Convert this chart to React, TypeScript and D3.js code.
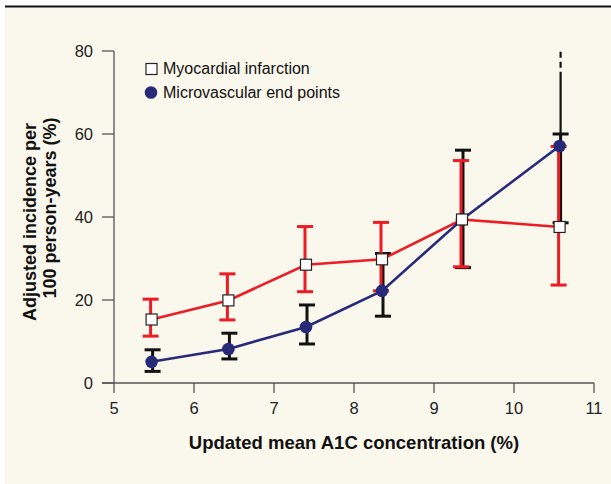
import React from "react";
import * as d3 from "d3";

const xTicks = [5, 6, 7, 8, 9, 10, 11];
const yTicks = [0, 20, 40, 60, 80];

const a1c = [5.47, 6.43, 7.4, 8.35, 9.35, 10.57];

const miValue = [15.3, 19.9, 28.5, 29.8, 39.4, 37.6];
const miLower = [11.3, 15.2, 22.0, 22.2, 28.0, 23.6];
const miUpper = [20.2, 26.3, 37.7, 38.7, 53.6, 57.0];

const mvValue = [5.1, 8.2, 13.5, 22.2, 39.4, 57.1];
const mvLower = [2.8, 5.8, 9.4, 16.1, 27.8, 38.6];
const mvUpper = [8.0, 12.0, 18.8, 31.2, 56.1, 60.0];
// upper whisker continuing off the scale for the last point (solid to 75, dashed to 80)
const mvBeyondSolid = [null, null, null, null, null, 75];
const mvBeyondDash = [null, null, null, null, null, 80];

const seriesNames = ["Myocardial infarction", "Microvascular end points"];
const xTitle = "Updated mean A1C concentration (%)";
const yTitle = ["Adjusted incidence per", "100 person-years (%)"];

const RED = "#ec1c24";
const NAVY = "#262a78";
const BLACK = "#111111";
const AXIS = "#555555";
const BG = "#faf7ec";
const FONT = "Liberation Sans, Arial, Helvetica, sans-serif";

export default function App() {
  const x = d3.scaleLinear().domain([5, 11]).range([114, 594]);
  const y = d3.scaleLinear().domain([0, 80]).range([383, 51]);
  const capW = 8;

  const miLine = d3
    .line<number>()
    .x((_, i) => x(a1c[i]))
    .y((d) => y(d));
  const mvLine = d3
    .line<number>()
    .x((_, i) => x(a1c[i]))
    .y((d) => y(d));

  const errBar = (xi: number, lo: number, hi: number, color: string, key: string) => (
    <g key={key} stroke={color} strokeWidth={3} fill="none">
      <line x1={xi} x2={xi} y1={y(lo)} y2={y(hi)} />
      <line x1={xi - capW} x2={xi + capW} y1={y(lo)} y2={y(lo)} />
      <line x1={xi - capW} x2={xi + capW} y1={y(hi)} y2={y(hi)} />
    </g>
  );

  return (
    <svg
      width={611}
      height={484}
      style={{ position: "absolute", left: 0, top: 0 }}
      fontFamily={FONT}
    >
      <rect x={5} y={6} width={606} height={478} fill={BG} />
      <line x1={5} x2={611} y1={6.5} y2={6.5} stroke="#111" strokeWidth={1.8} />

      {/* axes */}
      <g stroke={AXIS} strokeWidth={1.3}>
        <line x1={x(5)} x2={x(5)} y1={y(80)} y2={y(0)} />
        <line x1={102} x2={x(11)} y1={y(0)} y2={y(0)} />
        {yTicks.map((t) => (
          <line key={"yt" + t} x1={102} x2={x(5)} y1={y(t)} y2={y(t)} />
        ))}
        {xTicks.map((t) => (
          <line key={"xt" + t} x1={x(t)} x2={x(t)} y1={y(0)} y2={y(0) + 10} />
        ))}
      </g>
      <g fontSize={16.5} fill="#222">
        {yTicks.map((t) => (
          <text key={"yl" + t} x={93} y={y(t) + 6} textAnchor="end">
            {t}
          </text>
        ))}
        {xTicks.map((t) => (
          <text key={"xl" + t} x={x(t)} y={414} textAnchor="middle">
            {t}
          </text>
        ))}
      </g>

      <text x={354} y={449} textAnchor="middle" fontSize={18.5} fontWeight="bold" fill="#111">
        {xTitle}
      </text>
      <text
        transform={`translate(35.5,222) rotate(-90)`}
        textAnchor="middle"
        fontSize={18}
        fontWeight="bold"
        fill="#111"
      >
        {yTitle[0]}
      </text>
      <text
        transform={`translate(55.5,208) rotate(-90)`}
        textAnchor="middle"
        fontSize={18}
        fontWeight="bold"
        fill="#111"
      >
        {yTitle[1]}
      </text>

      {/* black error bars (microvascular) */}
      {a1c.map((a, i) => errBar(x(a) + 1, mvLower[i], mvUpper[i], BLACK, "mv" + i))}
      {a1c.map((a, i) =>
        mvBeyondSolid[i] != null ? (
          <g key={"bey" + i} stroke={BLACK} strokeWidth={2.2}>
            <line x1={x(a) + 1} x2={x(a) + 1} y1={y(mvUpper[i])} y2={y(mvBeyondSolid[i] as number)} />
            <line
              x1={x(a) + 1}
              x2={x(a) + 1}
              y1={y(mvBeyondSolid[i] as number) - 4}
              y2={y(mvBeyondDash[i] as number)}
              strokeDasharray="6,4"
            />
          </g>
        ) : null
      )}
      {/* red error bars (MI) */}
      {a1c.map((a, i) => errBar(x(a) - 1, miLower[i], miUpper[i], RED, "mi" + i))}

      {/* lines */}
      <path d={miLine(miValue) || ""} fill="none" stroke={RED} strokeWidth={2.6} />
      <path d={mvLine(mvValue) || ""} fill="none" stroke={NAVY} strokeWidth={2.6} />

      {/* markers */}
      {a1c.map((a, i) => (
        <circle key={"c" + i} cx={x(a)} cy={y(mvValue[i])} r={6.3} fill={NAVY} />
      ))}
      {a1c.map((a, i) => (
        <rect
          key={"s" + i}
          x={x(a) - 5.5}
          y={y(miValue[i]) - 5.5}
          width={11}
          height={11}
          fill="#fff"
          stroke="#222"
          strokeWidth={1.2}
        />
      ))}

      {/* legend */}
      <rect x={146} y={63.5} width={11} height={11} fill="#fff" stroke="#222" strokeWidth={1.2} />
      <text x={163} y={74} fontSize={16} fill="#111">
        {seriesNames[0]}
      </text>
      <circle cx={151} cy={92.5} r={6.3} fill={NAVY} />
      <text x={163} y={98} fontSize={16} fill="#111">
        {seriesNames[1]}
      </text>
    </svg>
  );
}
